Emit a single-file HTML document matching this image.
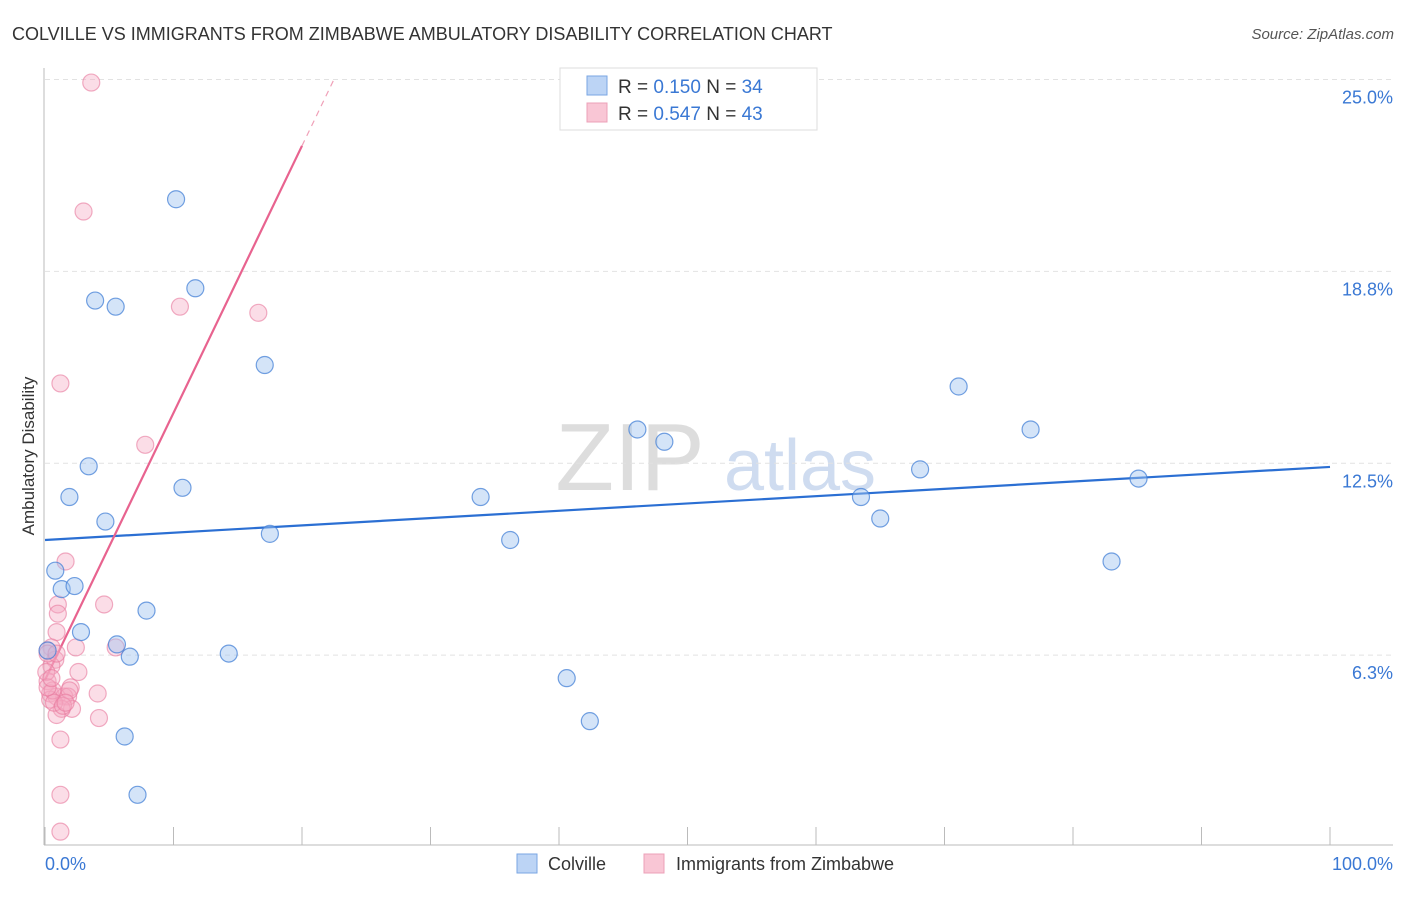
<!DOCTYPE html>
<html><head><meta charset="utf-8"><style>
body{margin:0;background:#fff;font-family:"Liberation Sans",sans-serif;}
svg text{font-family:"Liberation Sans",sans-serif;}
</style></head><body>
<svg id="chart" width="1406" height="892" viewBox="0 0 1406 892">
<text x="12" y="40" font-size="18" fill="#333">COLVILLE VS IMMIGRANTS FROM ZIMBABWE AMBULATORY DISABILITY CORRELATION CHART</text>
<text x="1394" y="39" font-size="15" fill="#555" font-style="italic" text-anchor="end">Source: ZipAtlas.com</text>
<text x="630" y="490" font-size="96" fill="#ddd" font-family="Liberation Serif" text-anchor="middle">ZIP</text>
<text x="800" y="490" font-size="72" fill="#cfdcf0" text-anchor="middle">atlas</text>
<g id="grid"></g>
<line x1="44" y1="68" x2="44" y2="845" stroke="#bbb"/>
<line x1="44" y1="845" x2="1393" y2="845" stroke="#bbb"/>
<g id="xticks"></g>
<text x="45" y="870" font-size="18" fill="#3a78d4">0.0%</text>
<text x="1393" y="870" font-size="18" fill="#3a78d4" text-anchor="end">100.0%</text>
<text x="34" y="456" font-size="17" fill="#333" text-anchor="middle" transform="rotate(-90 34 456)">Ambulatory Disability</text>
<g id="lines"></g>
<g id="points"></g>
<g>
<rect x="560" y="68" width="257" height="62" fill="#fff" stroke="#ddd"/>
<rect x="587" y="76" width="20" height="19" fill="#bcd4f5" stroke="#7aa6e3"/>
<rect x="587" y="103" width="20" height="19" fill="#f9c6d5" stroke="#eca0b8"/>
<text x="618" y="93" font-size="19" fill="#333">R = <tspan fill="#3a78d4">0.150</tspan>   N = <tspan fill="#3a78d4">34</tspan></text>
<text x="618" y="120" font-size="19" fill="#333">R = <tspan fill="#3a78d4">0.547</tspan>   N = <tspan fill="#3a78d4">43</tspan></text>
</g>
<g>
<rect x="517" y="854" width="20" height="19" fill="#bcd4f5" stroke="#7aa6e3"/>
<text x="548" y="870" font-size="18" fill="#333">Colville</text>
<rect x="644" y="854" width="20" height="19" fill="#f9c6d5" stroke="#eca0b8"/>
<text x="676" y="870" font-size="18" fill="#333">Immigrants from Zimbabwe</text>
</g>
</svg>
<script>
const yTicks=[6.25,12.5,18.75,25];
const yTickLabels=["6.3%","12.5%","18.8%","25.0%"];
const xTicks=[0,10,20,30,40,50,60,70,80,90,100];
const blueX=[10.2,11.7,3.9,5.5,17.1,3.4,1.9,10.7,4.7,17.5,0.8,1.3,2.3,7.9,2.8,5.6,6.6,14.3,6.2,7.2,33.9,36.2,40.6,42.4,46.1,48.2,63.5,65.0,68.1,71.1,76.7,85.1,83.0,0.2];
const blueY=[21.1,18.2,17.8,17.6,15.7,12.4,11.4,11.7,10.6,10.2,9.0,8.4,8.5,7.7,7.0,6.6,6.2,6.3,3.6,1.7,11.4,10.0,5.5,4.1,13.6,13.2,11.4,10.7,12.3,15.0,13.6,12.0,9.3,6.4];
const pinkX=[3.6,3.0,10.5,16.6,1.2,7.8,1.6,4.6,1.0,1.0,0.9,0.5,5.5,2.4,0.2,0.8,0.5,2.6,0.2,2.0,0.4,4.1,0.9,1.5,1.8,0.4,2.1,1.3,0.9,4.2,1.2,1.2,1.2,0.2,0.6,0.1,0.7,0.2,1.4,0.5,1.9,0.9,1.6];
const pinkY=[24.9,20.7,17.6,17.4,15.1,13.1,9.3,7.9,7.9,7.6,7.0,6.5,6.5,6.5,6.4,6.1,5.9,5.7,5.4,5.2,5.0,5.0,4.9,4.9,4.9,4.8,4.5,4.5,4.3,4.2,3.5,1.7,0.5,6.3,5.1,5.7,4.7,5.2,4.6,5.5,5.1,6.3,4.7];
const blueTrend=[10.0,12.38];
const pinkTrend=[5.44,0.87];
const pinkSolidEnd=20, pinkDashEnd=22.6;
const X=v=>45+v*12.85, Y=v=>847-v*30.7;
const NS="http://www.w3.org/2000/svg";
function mk(t,a,p){const e=document.createElementNS(NS,t);for(const k in a)e.setAttribute(k,a[k]);p.appendChild(e);return e;}
const grid=document.getElementById('grid');
yTicks.forEach((v,i)=>{
 const l=mk('line',{x1:45,x2:1393,y1:Y(v),y2:Y(v),stroke:'#e2e2e2','stroke-dasharray':'5,4'},grid);
 
 
 const t=mk('text',{x:1393,y:Y(v)+24,'font-size':18,fill:'#3a78d4','text-anchor':'end'},grid);
 t.textContent=yTickLabels[i];
 
 
});
const xt=document.getElementById('xticks');
xTicks.forEach(v=>{
 const l=mk('line',{x1:X(v),x2:X(v),y1:827,y2:845,stroke:'#bbb'},xt);
 
 
});
const lg=document.getElementById('lines');
let b=mk('line',{x1:X(0),y1:Y(blueTrend[0]),x2:X(100),y2:Y(blueTrend[1]),stroke:'#2b6fd3','stroke-width':2.2},lg);


let p=mk('line',{x1:X(0),y1:Y(pinkTrend[0]),x2:X(pinkSolidEnd),y2:Y(pinkTrend[0]+pinkTrend[1]*pinkSolidEnd),stroke:'#e8638f','stroke-width':2.2},lg);


let pd=mk('line',{x1:X(pinkSolidEnd),y1:Y(pinkTrend[0]+pinkTrend[1]*pinkSolidEnd),x2:X(pinkDashEnd),y2:Y(pinkTrend[0]+pinkTrend[1]*pinkDashEnd),stroke:'#f0a0b8','stroke-width':1.2,'stroke-dasharray':'6,5'},lg);


const pg=document.getElementById('points');
pinkX.forEach((x,i)=>{
 const c=mk('circle',{cx:X(x),cy:Y(pinkY[i]),r:8.5,fill:'rgba(246,170,194,0.4)',stroke:'rgba(232,120,156,0.6)','stroke-width':1.2},pg);
 
 
});
blueX.forEach((x,i)=>{
 const c=mk('circle',{cx:X(x),cy:Y(blueY[i]),r:8.5,fill:'rgba(160,196,240,0.45)',stroke:'rgba(70,130,215,0.75)','stroke-width':1.2},pg);
 
 
});
</script>
</body></html>
